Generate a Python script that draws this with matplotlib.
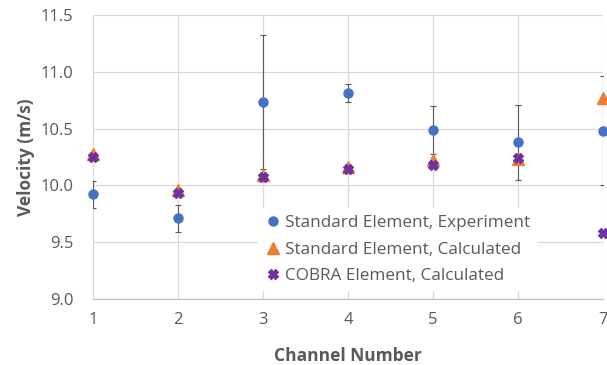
import numpy as np
import matplotlib.pyplot as plt

plt.rcParams['font.family'] = ['Open Sans', 'DejaVu Sans']

channels = [1, 2, 3, 4, 5, 6, 7]
std_exp = [9.92, 9.71, 10.73, 10.81, 10.49, 10.38, 10.48]
std_exp_err = [0.12, 0.12, 0.59, 0.08, 0.21, 0.33, 0.48]
std_calc = [10.28, 9.96, 10.09, 10.16, 10.22, 10.23, 10.77]
cobra_calc = [10.25, 9.93, 10.07, 10.14, 10.18, 10.24, 9.58]

text_color = '#595959'

fig = plt.figure(figsize=(6.07, 3.65), dpi=100)
ax = fig.add_axes([93 / 607, 66 / 365, 510 / 607, 284 / 365])

ax.errorbar(channels, std_exp, yerr=std_exp_err, fmt='none', ecolor='#595959',
            elinewidth=0.8, capsize=2, capthick=0.8, zorder=2)
ax.plot(channels, std_exp, 'o', color='#4472C4', markersize=6.5,
        label='Standard Element, Experiment', zorder=3, clip_on=False)
ax.plot(channels, std_calc, '^', color='#ED7D31', markersize=8,
        label='Standard Element, Calculated', zorder=4, clip_on=False)
ax.plot(channels, cobra_calc, 'X', color='#7030A0', markersize=6.5,
        label='COBRA Element, Calculated', zorder=5, clip_on=False)

ax.set_xlim(1, 7)
ax.set_ylim(9.0, 11.5)
ax.set_xticks(channels)
ax.set_yticks(np.arange(9.0, 11.51, 0.5))
ax.set_yticklabels([f'{v:.1f}' for v in np.arange(9.0, 11.51, 0.5)])

ax.grid(True, color='#D9D9D9', linewidth=0.9)
ax.set_axisbelow(True)
for side in ['top', 'right', 'left']:
    ax.spines[side].set_visible(False)
ax.spines['bottom'].set_color('#BFBFBF')
ax.tick_params(length=0, labelsize=12, colors=text_color)
ax.tick_params(axis='x', pad=9)
ax.tick_params(axis='y', pad=14)

ax.set_xlabel('Channel Number', fontsize=12.5, fontweight='bold', color=text_color, labelpad=14)
ax.set_ylabel('Velocity (m/s)', fontsize=12.5, fontweight='bold', color=text_color, labelpad=4)

leg = ax.legend(loc='upper left', bbox_to_anchor=(0.3235, 0.32), frameon=True,
                fontsize=12.3, handletextpad=0.3, borderpad=0.4, labelspacing=0.62,
                handlelength=0.9, borderaxespad=0, framealpha=1)
leg.get_frame().set_edgecolor('none')
for t in leg.get_texts():
    t.set_color(text_color)

fig.savefig('out.png', dpi=100)
